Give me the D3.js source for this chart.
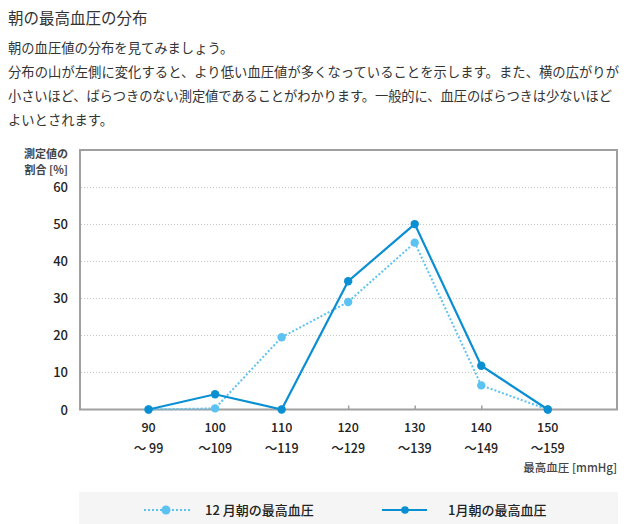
<!DOCTYPE html>
<html><head><meta charset="utf-8">
<script src="https://cdn.jsdelivr.net/npm/d3@7"></script>
<style>
html,body{margin:0;padding:0;background:#fff;}
svg{display:block;font-family:"Noto Sans CJK JP","Noto Sans",sans-serif;}
</style></head>
<body>
<svg id="chart" width="631" height="524"></svg>
<script>
const categories = [90, 100, 110, 120, 130, 140, 150];
const catLabels1 = ["90", "100", "110", "120", "130", "140", "150"];
const catLabels2 = ["〜 99", "〜109", "〜119", "〜129", "〜139", "〜149", "〜159"];
const decValues = [0, 0.3, 19.5, 29, 45, 6.5, 0];
const janValues = [0, 4.1, 0, 34.6, 50, 11.8, 0];
const yTicks = [0, 10, 20, 30, 40, 50, 60];
const seriesNames = ["12 月朝の最高血圧", "1月朝の最高血圧"];
const titleText = "朝の最高血圧の分布";
const paraLines = [
  "朝の血圧値の分布を見てみましょう。",
  "分布の山が左側に変化すると、より低い血圧値が多くなっていることを示します。また、横の広がりが",
  "小さいほど、ばらつきのない測定値であることがわかります。一般的に、血圧のばらつきは少ないほど",
  "よいとされます。"
];

const svg = d3.select("#chart");
const textColor = "#333";
const cDec = "#5bc2f2", cJan = "#0a8fd2";

svg.append("text").attr("x", 8).attr("y", 24).attr("font-size", 15.5).attr("fill", textColor).text(titleText);
const paraY = [53, 77, 101, 125];
paraLines.forEach((l, i) => {
  svg.append("text").attr("x", 8).attr("y", paraY[i]).attr("font-size", 13.3).attr("fill", textColor)
    .attr("textLength", i === 1 ? 611 : (i === 2 ? 604 : null))
    .attr("lengthAdjust", "spacing")
    .text(l);
});

const L = 80, R = 617, T = 150, B = 409.5;
const x = d3.scaleLinear().domain([79.7, 160.4]).range([L, R]);
const y = d3.scaleLinear().domain([0, 60]).range([B, 187]);

// grid
const g = svg.append("g");
g.selectAll("line.grid").data(yTicks.filter(d => d > 0)).join("line")
  .attr("x1", L + 1).attr("x2", R - 1)
  .attr("y1", d => Math.round(y(d)) + 0.5).attr("y2", d => Math.round(y(d)) + 0.5)
  .attr("stroke", "#c8c8c8").attr("stroke-dasharray", "1,2").attr("stroke-width", 1);

// frame
svg.append("rect").attr("x", L).attr("y", T).attr("width", R - L).attr("height", B - T)
  .attr("fill", "none").attr("stroke", "#a0a0a0").attr("stroke-width", 2);

// x axis ticks (inward)
const xAxis = d3.axisBottom(x).tickValues(categories).tickSize(-4).tickFormat("");
const xa = svg.append("g").attr("transform", `translate(0,${B})`).call(xAxis);
xa.select(".domain").remove();
xa.selectAll(".tick line").attr("stroke", "#a0a0a0").attr("stroke-width", 1.5);

// x labels
const xl = svg.append("g").attr("font-size", 12.5).attr("fill", "#222").attr("text-anchor", "middle").attr("font-weight", 500);
xl.selectAll("text.l1").data(categories).join("text").attr("class", "l1")
  .attr("x", d => x(d)).attr("y", 432).text((d, i) => catLabels1[i]);
xl.selectAll("text.l2").data(categories).join("text").attr("class", "l2")
  .attr("x", d => x(d)).attr("y", 453).text((d, i) => catLabels2[i]);

// y labels
const yAxis = d3.axisLeft(y).tickValues(yTicks).tickSize(0).tickPadding(0);
const ya = svg.append("g").attr("transform", `translate(68,0)`).call(yAxis);
ya.select(".domain").remove();
ya.selectAll("text").attr("font-size", 13).attr("fill", "#222").attr("font-weight", 500)
  .attr("font-family", "'Noto Sans CJK JP','Noto Sans',sans-serif").attr("dy", "0.35em");

svg.append("text").attr("x", 68).attr("y", 158).attr("text-anchor", "end").attr("font-size", 11).attr("font-weight", 700).attr("fill", "#444").text("測定値の");
svg.append("text").attr("x", 68).attr("y", 174).attr("text-anchor", "end").attr("font-size", 11).attr("font-weight", 700).attr("fill", "#444").text("割合 [%]");
svg.append("text").attr("x", 617).attr("y", 472).attr("text-anchor", "end").attr("font-size", 11.5).attr("font-weight", 500).attr("fill", "#444").text("最高血圧 [mmHg]");

// lines
const line = d3.line().x((d, i) => x(categories[i])).y(d => y(d));
svg.append("path").datum(decValues).attr("d", line).attr("fill", "none")
  .attr("stroke", cDec).attr("stroke-width", 2).attr("stroke-dasharray", "2,2");
svg.selectAll("circle.dec").data(decValues).join("circle").attr("class", "dec")
  .attr("cx", (d, i) => x(categories[i])).attr("cy", d => y(d)).attr("r", 4.2).attr("fill", cDec);
svg.append("path").datum(janValues).attr("d", line).attr("fill", "none")
  .attr("stroke", cJan).attr("stroke-width", 2.2);
svg.selectAll("circle.jan").data(janValues).join("circle").attr("class", "jan")
  .attr("cx", (d, i) => x(categories[i])).attr("cy", d => y(d)).attr("r", 4.2).attr("fill", cJan);

// legend
svg.append("rect").attr("x", 79).attr("y", 492).attr("width", 539).attr("height", 40).attr("fill", "#f5f5f5");
const lg = svg.append("g");
lg.append("line").attr("x1", 144).attr("x2", 190).attr("y1", 510).attr("y2", 510)
  .attr("stroke", cDec).attr("stroke-width", 2).attr("stroke-dasharray", "2,2");
lg.append("circle").attr("cx", 166).attr("cy", 510).attr("r", 4.5).attr("fill", cDec);
lg.append("text").attr("x", 205).attr("y", 515).attr("font-size", 13).attr("font-weight", 500).attr("fill", "#222").text(seriesNames[0]);
lg.append("line").attr("x1", 382).attr("x2", 427).attr("y1", 510).attr("y2", 510)
  .attr("stroke", cJan).attr("stroke-width", 2);
lg.append("circle").attr("cx", 405).attr("cy", 510).attr("r", 3.8).attr("fill", cJan);
lg.append("text").attr("x", 448).attr("y", 515).attr("font-size", 13).attr("font-weight", 500).attr("fill", "#222").text(seriesNames[1]);
</script>
</body></html>
